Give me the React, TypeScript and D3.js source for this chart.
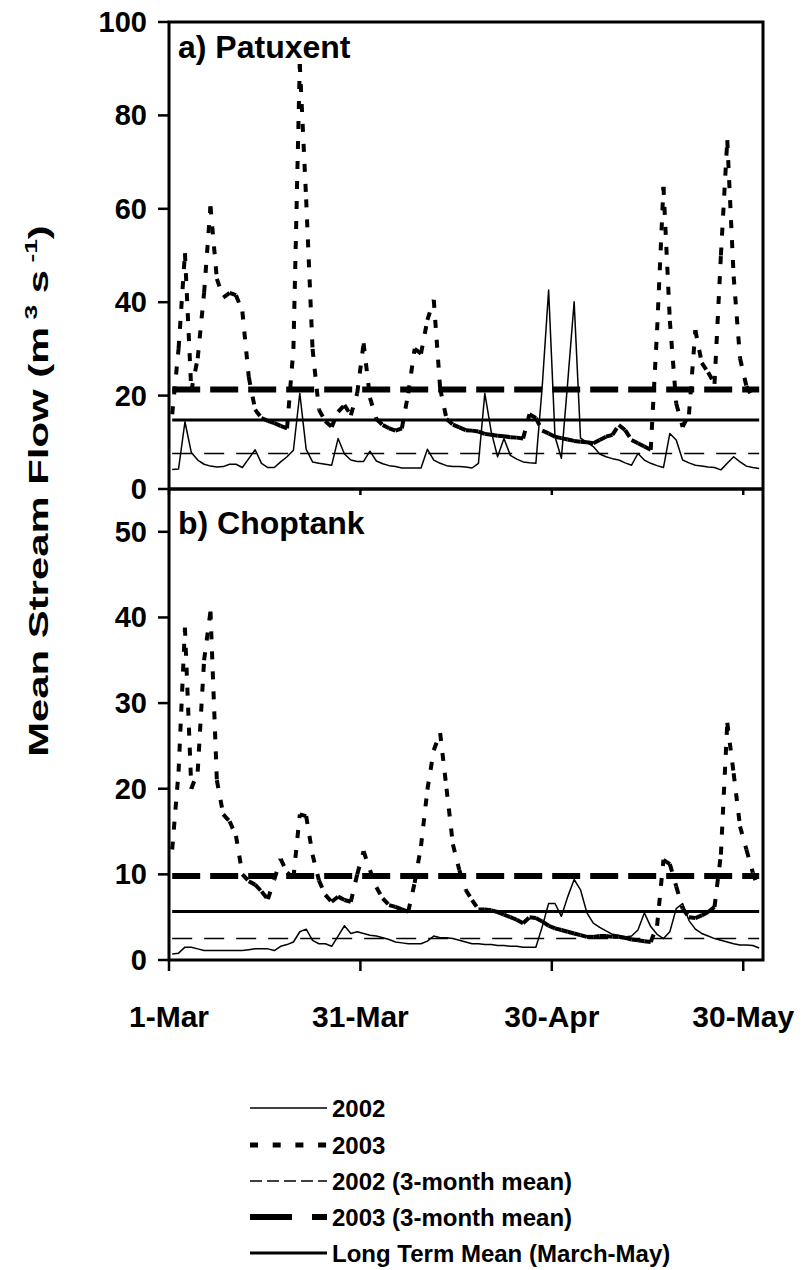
import React from "react";
import * as d3 from "d3";

// ---------- data ----------
const tickLabels = ["1-Mar", "31-Mar", "30-Apr", "30-May"];
const tickDays = [0, 30, 60, 90];

const patuxent2002 = [
  4.2, 4.3, 14.4, 7.8, 6.2, 5.3, 4.9, 4.7, 4.8, 5.3,
  5.3, 4.6, 6.5, 8.4, 5.5, 4.6, 4.6, 5.8, 6.9, 8.3,
  20.5, 8.5, 5.8, 5.5, 5.3, 5.1, 10.8, 7.5, 6.2, 5.9,
  5.9, 8.1, 6.0, 5.4, 5.0, 4.8, 4.5, 4.5, 4.5, 4.5,
  8.5, 6.2, 5.5, 5.0, 4.8, 4.8, 4.7, 4.5, 5.5, 20.5,
  12.3, 6.9, 10.8, 7.2, 6.4, 5.8, 5.6, 5.5, 22, 42.6,
  11.2, 6.6, 23, 40.1, 10.9, 10, 9.1, 7.5, 6.9, 6.5,
  6.2, 5.6, 5.1, 7.6, 6.2, 5.5, 5.0, 4.6, 11.9, 10.5,
  6.2, 5.6, 5.1, 4.9, 4.7, 4.6, 4.1, 5.5, 6.9, 5.8,
  4.9, 4.6, 4.4,
];
const patuxent2003 = [
  16, 30, 50.5, 21, 28, 42, 60.5, 45, 41, 42,
  41.5, 38, 24, 17, 15.2, 14.6, 14.1, 13.5, 13, 30,
  91, 62, 30, 17, 14.5, 13.3, 16.5, 18, 15.8, 20.5,
  31.2, 19.5, 15, 13.7, 13, 12.5, 13, 20.5, 30, 29,
  36.2, 40.5, 21.5, 15, 13.8, 13.2, 12.6, 12.5, 12.3, 11.8,
  11.6, 11.4, 11.3, 11.1, 11, 10.8, 16, 15.2, 12.5, 11.9,
  11.2, 10.9, 10.6, 10.3, 10.1, 10, 9.8, 10.5, 11.2, 11.6,
  13.7, 12.6, 10.5, 9.8, 9.1, 8.4, 34, 64.7, 36, 18.3,
  13.3, 16, 34, 27, 25, 22.5, 50, 74.7, 45.5, 28,
  22, 19.5,
];
const choptank2002 = [
  0.7, 0.8, 1.5, 1.5, 1.3, 1.1, 1.1, 1.1, 1.1, 1.1,
  1.1, 1.1, 1.2, 1.3, 1.3, 1.3, 1.1, 1.6, 1.8, 2.1,
  3.3, 3.6, 2.3, 1.9, 1.9, 1.6, 2.8, 4.0, 3.1, 3.3,
  3.1, 2.9, 2.8, 2.6, 2.4, 2.1, 2.0, 1.9, 1.9, 1.9,
  2.2, 2.8, 2.6, 2.6, 2.5, 2.3, 2.1, 1.9, 1.9, 1.8,
  1.8, 1.7, 1.7, 1.6, 1.6, 1.5, 1.5, 1.5, 3.9, 6.6,
  6.6, 5.1, 7.4, 9.4, 8.2, 5.5, 4.3, 3.8, 3.4, 3.0,
  2.9, 2.7, 2.8, 3.5, 5.5, 3.9, 3.0, 2.5, 3.3, 6.0,
  6.6, 4.6, 3.6, 3.1, 2.8, 2.5, 2.3, 2.1, 1.9, 1.75,
  1.75, 1.7, 1.4,
];
const choptank2003 = [
  12.9, 22, 38.8, 20, 22, 35, 40.7, 21, 17, 16.2,
  14.5, 10, 9.2, 8.8, 8.0, 7.1, 9.4, 11.8, 10.2, 9.6,
  17, 16.8, 12.3, 9.3, 7.6, 6.8, 7.4, 7, 6.8, 10,
  12.7, 10.5, 8.5, 7.2, 6.4, 6.2, 5.9, 5.65, 9, 13.3,
  19.9, 24.5, 26.5, 20, 13.5, 10.5, 8.2, 7, 5.9, 5.9,
  5.8, 5.6, 5.3, 5.0, 4.7, 4.3, 5.0, 4.9, 4.5, 4.0,
  3.7, 3.5, 3.3, 3.1, 2.9, 2.7, 2.7, 2.8, 2.8, 2.7,
  2.7, 2.6, 2.4, 2.3, 2.2, 2.1, 4.0, 11.7, 11.2, 8.6,
  6.0, 5.0, 4.9, 5.2, 5.6, 6.2, 12.3, 27.7, 21.8, 15.6,
  12.9, 10.2, 8,
];

const patuxentMean2002 = 7.6;
const patuxentMean2003 = 21.3;
const patuxentLongTerm = 14.8;
const choptankMean2002 = 2.5;
const choptankMean2003 = 9.8;
const choptankLongTerm = 5.65;

const patuxentTicks = [0, 20, 40, 60, 80, 100];
const choptankTicks = [0, 10, 20, 30, 40, 50];

const legendLabels = [
  "2002",
  "2003",
  "2002 (3-month mean)",
  "2003 (3-month mean)",
  "Long Term Mean (March-May)",
];

// ---------- layout ----------
const FONT = "'Liberation Sans', Arial, Helvetica, sans-serif";
const X0 = 169;
const X1 = 763;
const TOP = 22;
const MID = 489;
const BOT = 960;

const x = d3.scaleLinear().domain([0, 93.1]).range([X0, X1]);
const yTop = d3.scaleLinear().domain([0, 100]).range([MID, TOP]);
const yBot = d3.scaleLinear().domain([0, 55]).range([BOT, MID]);

const lineGen = (y: d3.ScaleLinear<number, number>) =>
  d3
    .line<number>()
    .x((_, i) => x(i + 0.5))
    .y((v) => y(v));

const STYLE_2002 = { width: 1.5, dash: "none" };
const STYLE_2003 = { width: 4, dash: "8,12" };
const STYLE_M2002 = { width: 1.5, dash: "20,12" };
const STYLE_M2003 = { width: 6, dash: "28,10" };
const STYLE_LT = { width: 3, dash: "none" };

function Panel({
  y,
  d2002,
  d2003,
  m2002,
  m2003,
  lt,
  ticks,
  label,
  labelY,
  bottom,
}: any) {
  const pts2003 = d2003.map((v: number, i: number) => [x(i + 0.5), y(v)]);
  const meanX0 = x(0.5);
  const meanX1 = x(92.5);
  const baseY = y.range()[0];
  return (
    <g>
      {/* 2002 daily */}
      <path d={lineGen(y)(d2002) || ""} fill="none" stroke="#000" strokeWidth={STYLE_2002.width} strokeLinejoin="round" />
      {/* 2003 daily: dash pattern restarts on each segment */}
      {pts2003.slice(1).map((p: number[], i: number) => (
        <line
          key={i}
          x1={pts2003[i][0]}
          y1={pts2003[i][1]}
          x2={p[0]}
          y2={p[1]}
          stroke="#000"
          strokeWidth={STYLE_2003.width}
          strokeDasharray={STYLE_2003.dash}
        />
      ))}
      {/* means */}
      <line x1={meanX0} x2={meanX1} y1={y(m2002)} y2={y(m2002)} stroke="#000" strokeWidth={STYLE_M2002.width} strokeDasharray={STYLE_M2002.dash} />
      <line x1={meanX0} x2={meanX1} y1={y(m2003)} y2={y(m2003)} stroke="#000" strokeWidth={STYLE_M2003.width} strokeDasharray={STYLE_M2003.dash} />
      <line x1={meanX0} x2={meanX1} y1={y(lt)} y2={y(lt)} stroke="#000" strokeWidth={STYLE_LT.width} />
      {/* y ticks */}
      {ticks.map((t: number) => (
        <g key={t}>
          <line x1={X0 - 11} x2={X0} y1={y(t)} y2={y(t)} stroke="#000" strokeWidth={2.5} />
          <text
            x={X0 - 22}
            y={y(t)}
            textAnchor="end"
            dominantBaseline="central"
            fontFamily={FONT}
            fontWeight="bold"
            fontSize={29}
          >
            {t}
          </text>
        </g>
      ))}
      {/* x ticks */}
      {tickDays.map((d, i) => (
        <line
          key={i}
          x1={x(d)}
          x2={x(d)}
          y1={baseY}
          y2={baseY + (bottom ? 11 : 6)}
          stroke="#000"
          strokeWidth={2.5}
        />
      ))}
      {bottom &&
        tickDays.map((d, i) => (
          <text
            key={i}
            x={x(d)}
            y={1027}
            textAnchor="middle"
            fontFamily={FONT}
            fontWeight="bold"
            fontSize={30}
          >
            {tickLabels[i]}
          </text>
        ))}
      <text x={178} y={labelY} fontFamily={FONT} fontWeight="bold" fontSize={32}>
        {label}
      </text>
    </g>
  );
}

export default function App() {
  const legendStyles = [
    STYLE_2002,
    { width: 5, dash: "8,14.7" },
    { width: 1.5, dash: "12,5" },
    { width: 6, dash: "42,20" },
    STYLE_LT,
  ];
  const legendY = [1108, 1145, 1181, 1217, 1253];
  return (
    <svg width={806} height={1270} style={{ display: "block", position: "absolute", left: 0, top: 0, background: "#fff" }}>
      <rect x={0} y={0} width={806} height={1270} fill="#fff" />
      <Panel
        y={yTop}
        d2002={patuxent2002}
        d2003={patuxent2003}
        m2002={patuxentMean2002}
        m2003={patuxentMean2003}
        lt={patuxentLongTerm}
        ticks={patuxentTicks}
        label="a) Patuxent"
        labelY={58}
        bottom={false}
      />
      <Panel
        y={yBot}
        d2002={choptank2002}
        d2003={choptank2003}
        m2002={choptankMean2002}
        m2003={choptankMean2003}
        lt={choptankLongTerm}
        ticks={choptankTicks}
        label="b) Choptank"
        labelY={534}
        bottom={true}
      />
      {/* frame */}
      <rect x={X0} y={TOP} width={X1 - X0} height={BOT - TOP} fill="none" stroke="#000" strokeWidth={3} />
      <line x1={X0} x2={X1} y1={MID} y2={MID} stroke="#000" strokeWidth={3.5} />
      {/* y-axis title */}
      <g transform={`translate(48,${(TOP + BOT) / 2}) rotate(-90)`}>
        <text
          transform="scale(1.55,1)"
          textAnchor="middle"
          fontFamily={FONT}
          fontWeight="bold"
          fontSize={27}
        >
          Mean Stream Flow (m
          <tspan dy={-11} fontSize={17}> 3</tspan>
          <tspan dy={11}> s</tspan>
          <tspan dy={-11} fontSize={17}> -1</tspan>
          <tspan dy={11}>)</tspan>
        </text>
      </g>
      {/* legend */}
      {legendLabels.map((lab, i) => (
        <g key={i}>
          <line
            x1={250}
            x2={327}
            y1={legendY[i]}
            y2={legendY[i]}
            stroke="#000"
            strokeWidth={legendStyles[i].width}
            strokeDasharray={legendStyles[i].dash}
          />
          <text x={332} y={legendY[i]} dominantBaseline="central" fontFamily={FONT} fontWeight="bold" fontSize={24}>
            {lab}
          </text>
        </g>
      ))}
    </svg>
  );
}
